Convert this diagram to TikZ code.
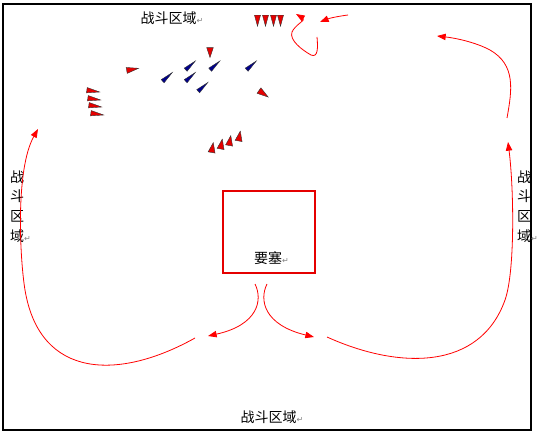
\documentclass[tikz,border=0pt]{standalone}
\usepackage{fontspec}
\newfontfamily\cjk{Noto Sans CJK SC}
\newfontfamily\dejavu{DejaVu Sans}
\usetikzlibrary{shapes.geometric,arrows.meta}
\newcommand{\retmark}{\rlap{\textcolor{gray}{\dejavu\fontsize{6}{6}\selectfont ↵}}}
\begin{document}
\begin{tikzpicture}[x=0.75pt,y=-0.75pt]
    % Styles
    \tikzset{
        zone/.style={font=\cjk\fontsize{10.5}{14.8}\selectfont, inner sep=0pt, align=center},
        tri/.style={isosceles triangle, isosceles triangle stretches, inner sep=0pt, draw=black!80, line width=0.3pt},
        redtri/.style={tri, fill=red!90!black},
        bluetri/.style={tri, fill=blue!55!black, minimum height=9.75pt, minimum width=3.2pt, rotate=42},
        route/.style={draw=red, line width=0.6pt, -{Triangle[length=6.5pt,width=4.8pt]}}
    }
    \useasboundingbox (0,0) rectangle (538,435);

    % --- Frame and fortress ---
    \draw[line width=1.1pt] (3,4) rectangle (531,430);
    \draw[draw=red!90!black, line width=0.8pt] (223,191) rectangle (315,273);
    \node[zone] (fortlabel) at (268,258) {要塞\retmark};

    % --- Battle zone labels ---
    \node[zone] (zonetop) at (168.5,18) {战斗区域\retmark};
    \node[zone] (zonebottom) at (268.5,417) {战斗区域\retmark};
    \node[zone] (zoneleft) at (17,206.5) {战\\斗\\区\\域\retmark};
    \node[zone] (zoneright) at (524,206.5) {战\\斗\\区\\域\retmark};

    % --- Red units, top row ---
    \node[redtri, minimum height=8.25pt, minimum width=4.5pt, rotate=-90] (rt1) at (257.5,17.5) {};
    \node[redtri, minimum height=8.25pt, minimum width=4.5pt, rotate=-90] (rt2) at (265.5,17.5) {};
    \node[redtri, minimum height=8.25pt, minimum width=4.5pt, rotate=-90] (rt3) at (273.5,17.5) {};
    \node[redtri, minimum height=8.25pt, minimum width=4.5pt, rotate=-90] (rt4) at (280.5,17.5) {};

    % --- Red single units ---
    \node[redtri, minimum height=7.5pt, minimum width=5pt, rotate=-90] (rdown) at (210,50) {};
    \node[redtri, minimum height=9pt, minimum width=4.5pt, rotate=10] (rright) at (129,70) {};
    \node[redtri, minimum height=8.5pt, minimum width=5pt, rotate=-35] (rdiag) at (261,92) {};

    % --- Red units, left column ---
    \node[redtri, minimum height=9.75pt, minimum width=4pt, rotate=-8] (rl1) at (89,90.5) {};
    \node[redtri, minimum height=9.75pt, minimum width=4pt, rotate=-8] (rl2) at (90,98.5) {};
    \node[redtri, minimum height=9.75pt, minimum width=4pt, rotate=-8] (rl3) at (91,105.5) {};
    \node[redtri, minimum height=9.75pt, minimum width=4pt, rotate=-8] (rl4) at (93,113.5) {};

    % --- Red units, lower row ---
    \node[redtri, minimum height=7.5pt, minimum width=5.25pt, rotate=80] (rb1) at (212,150) {};
    \node[redtri, minimum height=7.5pt, minimum width=5.25pt, rotate=80] (rb2) at (221,146.5) {};
    \node[redtri, minimum height=7.5pt, minimum width=5.25pt, rotate=80] (rb3) at (229.5,143) {};
    \node[redtri, minimum height=7.5pt, minimum width=5.25pt, rotate=80] (rb4) at (239,138.5) {};

    % --- Blue units ---
    \node[bluetri] (b1) at (164,80) {};
    \node[bluetri] (b2) at (187,68.5) {};
    \node[bluetri] (b3) at (187,80) {};
    \node[bluetri] (b4) at (211.5,68.5) {};
    \node[bluetri] (b5) at (248,68.5) {};
    \node[bluetri] (b6) at (199.5,90) {};

    % --- Route end points ---
    \coordinate (gateL) at (255,284);
    \coordinate (gateR) at (267,284);
    \coordinate (exitL) at (208,336);
    \coordinate (exitR) at (314,337);
    \coordinate (loopL) at (195,338);
    \coordinate (loopR) at (327,337);
    \coordinate (endL) at (38,129);
    \coordinate (endR) at (508,142);
    \coordinate (upR) at (507,118);
    \coordinate (endTR) at (437,36);
    \coordinate (startT) at (348,15);
    \coordinate (endT) at (320,22);
    \coordinate (startS) at (317,37);
    \coordinate (endS) at (296,14);

    % --- Routes ---
    \draw[route] (gateL) .. controls (263,300) and (258,325) .. (exitL);
    \draw[route] (gateR) .. controls (259,300) and (264,325) .. (exitR);
    \draw[route] (loopL) .. controls (120,380) and (40,380) .. (25,290)
        .. controls (20,260) and (15,170) .. (endL);
    \draw[route] (loopR) .. controls (400,370) and (480,370) .. (505,300)
        .. controls (515,272) and (514,190) .. (endR);
    \draw[route] (upR) .. controls (512,90) and (516,65) .. (490,50)
        .. controls (475,42) and (455,38) .. (endTR);
    \draw[route] (startT) .. controls (340,16) and (330,18) .. (endT);
    \draw[route] (startS) .. controls (318,48) and (318,58) .. (311,55)
        .. controls (302,50) and (289,40) .. (292,32)
        .. controls (295,25) and (306,20) .. (endS);
\end{tikzpicture}
\end{document}
